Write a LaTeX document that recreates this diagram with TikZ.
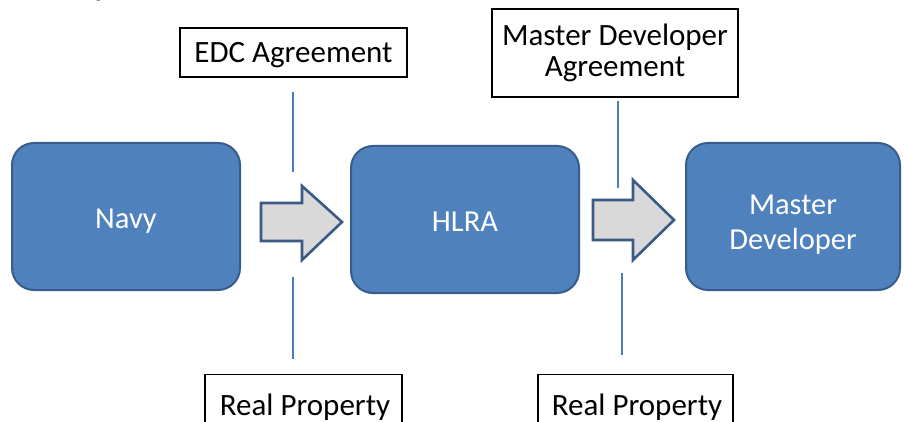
\documentclass[tikz,border=0pt]{standalone}
\usepackage{fontspec}
\setmainfont{Carlito}
\newfontfamily\titlefont{Liberation Serif}
\definecolor{boxfill}{HTML}{4F81BD}
\definecolor{boxborder}{HTML}{385D8A}
\definecolor{arrowfill}{HTML}{D9D9D9}
\definecolor{arrowborder}{HTML}{3B5A85}
\definecolor{linecol}{HTML}{4A7EBB}
\begin{document}
\begin{tikzpicture}[x=1pt,y=-1pt,
  proc/.style={draw=boxborder, fill=boxfill, line width=2pt, rounded corners=22pt,
    text=white, font=\fontsize{30.5}{35}\selectfont, align=center, inner sep=0pt},
  proctext/.style={text=white, font=\fontsize{30.5}{35}\selectfont, inner sep=0pt, anchor=base},
  tagbox/.style={draw=black, fill=white, line width=1.4pt,
    font=\fontsize{31}{31.5}\selectfont, align=center, inner sep=0pt},
  conn/.style={draw=linecol, line width=1.1pt},
  bigarrow/.style={draw=arrowborder, fill=arrowfill, line width=2.6pt, line join=miter}]
\clip (0,0) rectangle (904,422);
\fill[white] (0,0) rectangle (904,422);

% clipped caption at the top
\node[anchor=base west, inner sep=0pt, text=black!80,
  font=\titlefont\fontsize{26}{26}\selectfont] (title) at (10,-4) {a Conveyance Process};

% process boxes
\node[proc, minimum width=228, minimum height=147] (navy) at (126,216.5) {};
\node[proctext] (navytxt) at (126,228) {Navy};
\node[proc, minimum width=228, minimum height=147] (hlra) at (465,219.5) {};
\node[proctext] (hlratxt) at (465,231) {HLRA};
\node[proc, minimum width=214, minimum height=147] (md) at (793,216.5) {};
\node[proctext] (mdtxt1) at (793,214) {Master};
\node[proctext] (mdtxt2) at (793,249) {Developer};

% label boxes
\node[tagbox, minimum width=227, minimum height=49] (edc) at (293.5,52.5) {};
\node[tagbox, draw=none, fill=none, anchor=base] (edctxt) at (293.5,63) {EDC Agreement};
\node[tagbox, minimum width=246, minimum height=88] (mda) at (615,53) {Master Developer\\Agreement};
\node[tagbox, minimum width=197, minimum height=62, anchor=north] (rp1) at (303.5,374) {};
\node[tagbox, draw=none, fill=none, anchor=base] (rp1txt) at (305,415) {Real Property};
\node[tagbox, minimum width=195, minimum height=62, anchor=north] (rp2) at (635.5,374) {};
\node[tagbox, draw=none, fill=none, anchor=base] (rp2txt) at (637,415) {Real Property};

% block arrows
\draw[bigarrow] (261,203) -- (302,203) -- (302,186) -- (342,222) -- (302,260) -- (302,241) -- (261,241) -- cycle;
\draw[bigarrow] (593,200) -- (633,200) -- (633,180) -- (674,220) -- (633,260) -- (633,240) -- (593,240) -- cycle;

% thin vertical lines
\coordinate (a1) at (293,92);
\coordinate (a2) at (293,172);
\coordinate (a3) at (293,277);
\coordinate (a4) at (293,359);
\coordinate (b1) at (618,101);
\coordinate (b2) at (618,188);
\coordinate (b3) at (622,273);
\coordinate (b4) at (622,355);
\draw[conn] (a1) -- (a2);
\draw[conn] (a3) -- (a4);
\draw[conn] (b1) -- (b2);
\draw[conn] (b3) -- (b4);
\end{tikzpicture}
\end{document}
